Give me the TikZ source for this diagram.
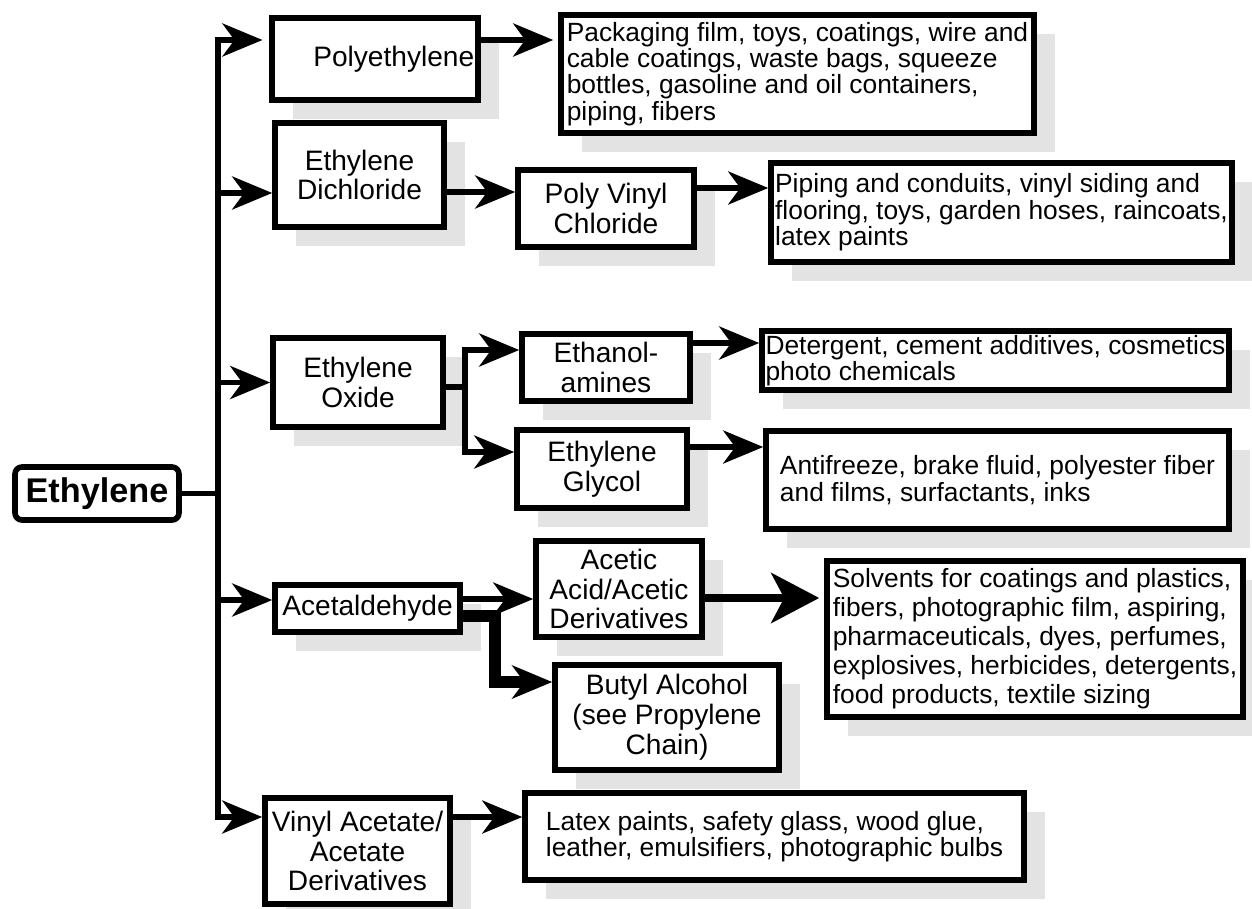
\documentclass[tikz,border=0pt]{standalone}
\usepackage{fontspec}
\setmainfont{Liberation Sans}
\usetikzlibrary{arrows.meta,shadows}

\begin{document}
\begin{tikzpicture}[x=0.02cm, y=-0.02cm,
	boxed/.style={draw, line width=3.2pt, fill=white, align=center, inner sep=2pt,
		font=\fontsize{16pt}{17pt}\selectfont},
	prod/.style={boxed, drop shadow={shadow xshift=0.42cm, shadow yshift=-0.38cm, fill=black!11, opacity=1}},
	uses/.style={prod, align=left, font=\fontsize{15pt}{15pt}\selectfont},
	conn/.style={line width=3.2pt, line cap=rect},
	arr/.style={conn, -{Stealth[length=0.8cm, width=0.66cm, inset=0.24cm]}},
	fat arr/.style={arr, line width=0.24cm},
	big arr/.style={conn, line width=4.4pt, -{Stealth[length=0.96cm, width=1.0cm, inset=0.26cm]}}]
	\useasboundingbox (0,0) rectangle (1252,909);

	% raw material
	\node[boxed, rounded corners=4pt, font=\fontsize{19.5pt}{21pt}\selectfont\bfseries,
		minimum width=3.28cm, minimum height=1.06cm] (eth) at (97,493.5) {Ethylene};

	% first products
	\node[prod, minimum width=3.92cm, minimum height=1.64cm] (poly) at (375,59) {\hspace*{0.75cm}Polyethylene};
	\node[prod, minimum width=3.38cm, minimum height=2.08cm] (edc) at (359.5,175) {Ethylene\\Dichloride};
	\node[prod, minimum width=3.40cm, minimum height=1.78cm] (eo) at (358,382.5) {Ethylene\\Oxide};
	\node[prod, minimum width=3.70cm, minimum height=0.94cm] (acet) at (367.5,608.5) {Acetaldehyde};
	\node[prod, minimum width=3.70cm, minimum height=2.12cm] (vin) at (357.5,851) {Vinyl Acetate/\\Acetate\\Derivatives};

	% second products
	\node[prod, minimum width=3.52cm, minimum height=1.54cm] (pvc) at (606,208.5) {Poly Vinyl\\Chloride};
	\node[prod, minimum width=3.36cm, minimum height=1.34cm] (ea) at (606,367.5) {Ethanol-\\amines};
	\node[prod, minimum width=3.40cm, minimum height=1.56cm] (eg) at (602,469) {Ethylene\\Glycol};
	\node[prod, minimum width=3.32cm, minimum height=1.92cm] (aca) at (619,589) {Acetic\\Acid/Acetic\\Derivatives};
	\node[prod, minimum width=4.48cm, minimum height=2.10cm] (but) at (667,717.5) {Butyl Alcohol\\(see Propylene\\Chain)};

	% end uses
	\node[uses, minimum width=9.46cm, minimum height=2.36cm] (pack) at (797.5,74)
		{Packaging film, toys, coatings, wire and\\cable coatings, waste bags, squeeze\\bottles, gasoline and oil containers,\\piping, fibers};
	\node[uses, minimum width=9.22cm, minimum height=1.98cm] (pip) at (1001.5,212.5)
		{Piping and conduits, vinyl siding and\\flooring, toys, garden hoses, raincoats,\\latex paints};
	\node[uses, minimum width=9.18cm, minimum height=1.18cm] (det) at (995.5,360.5)
		{Detergent, cement additives, cosmetics\\photo chemicals};
	\node[uses, minimum width=9.26cm, minimum height=1.96cm] (anti) at (997.5,480)
		{Antifreeze, brake fluid, polyester fiber\\and films, surfactants, inks};
	\node[uses, font=\fontsize{15pt}{16.5pt}\selectfont, minimum width=8.32cm, minimum height=3.12cm] (solv) at (1035,639)
		{Solvents for coatings and plastics,\\fibers, photographic film, aspiring,\\pharmaceuticals, dyes, perfumes,\\explosives, herbicides, detergents,\\food products, textile sizing};
	\node[uses, minimum width=9.98cm, minimum height=1.74cm] (lat) at (774.5,836.5)
		{Latex paints, safety glass, wood glue,\\leather, emulsifiers, photographic bulbs};

	% helper points
	\coordinate (trunk top) at (218,40);
	\coordinate (trunk bot) at (218,817);
	\coordinate (eo fork) at (465,387);
	\coordinate (acet bend) at (495,616);
	\coordinate (in edc) at ([yshift=-0.36cm]edc.west);
	\coordinate (in acet) at ([yshift=0.17cm]acet.west);
	\coordinate (in vin) at ([yshift=0.68cm]vin.west);
	\coordinate (in pvc) at ([yshift=0.33cm]pvc.west);
	\coordinate (out pvc) at ([yshift=0.41cm]pvc.east);
	\coordinate (in ea) at ([yshift=0.35cm]ea.west);
	\coordinate (in eg) at ([yshift=0.34cm]eg.west);
	\coordinate (out ea) at ([yshift=0.49cm]ea.east);
	\coordinate (out eg) at ([yshift=0.44cm]eg.east);
	\coordinate (out acet) at ([yshift=0.19cm]acet.east);
	\coordinate (in but) at ([yshift=0.71cm]but.west);
	\coordinate (out aca) at ([yshift=-0.18cm]aca.east);
	\coordinate (out vin) at ([yshift=0.68cm]vin.east);

	% trunk and branches
	\draw[conn] (eth) -- (eth -| trunk top);
	\draw[arr, shorten >=0.14cm] (trunk bot) -- (trunk top) -- (trunk top -| poly.west);
	\draw[arr] (trunk top |- in edc) -- (in edc);
	\draw[arr] (trunk top |- eo.west) -- (eo.west);
	\draw[arr] (trunk top |- in acet) -- (in acet);
	\draw[arr] (trunk bot) -- (in vin);

	% to the next step
	\draw[arr, shorten >=0.1cm] (poly.east |- trunk top) -- (pack.west |- trunk top);
	\draw[arr] (edc.east |- in pvc) -- (in pvc);
	\draw[arr] (out pvc) -- (out pvc -| pip.west);
	\draw[arr] (eo.east |- eo fork) -- (eo fork) |- (in ea);
	\draw[arr] (eo fork) |- (in eg);
	\draw[arr] (out ea) -- (out ea -| det.west);
	\draw[arr] (out eg) -- (out eg -| anti.west);
	\draw[fat arr] (acet.east |- acet bend) -- (acet bend) |- (in but);
	\draw[arr] (out acet) -- (out acet -| aca.west);
	\draw[big arr, shorten >=0.1cm] (out aca) -- (out aca -| solv.west);
	\draw[arr] (out vin) -- (out vin -| lat.west);
\end{tikzpicture}
\end{document}
